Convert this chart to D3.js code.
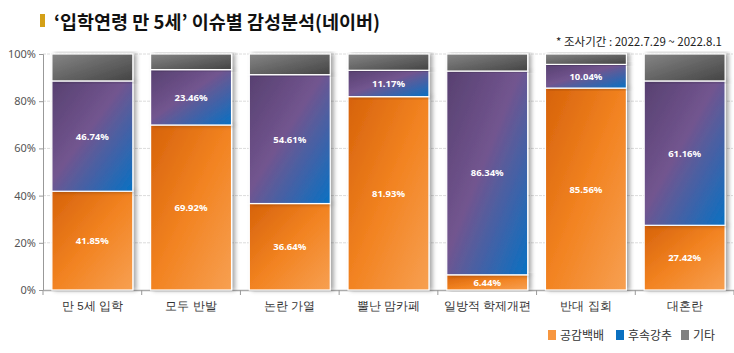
<!DOCTYPE html>
<html>
<head>
<meta charset="utf-8">
<script src="https://cdn.jsdelivr.net/npm/d3@7"></script>
<style>
  body { margin: 0; background: #fff; }
  svg { font-family: "Noto Sans CJK KR", "Noto Sans", sans-serif; }
</style>
</head>
<body>
<div id="chart"></div>
<script>
// categories and series (percent)
var categories = ["만 5세 입학", "모두 반발", "논란 가열", "뿔난 맘카페", "일방적 학제개편", "반대 집회", "대혼란"];
var empathy = [41.85, 69.92, 36.64, 81.93, 6.44, 85.56, 27.42];
var followUp = [46.74, 23.46, 54.61, 11.17, 86.34, 10.04, 61.16];
var others = [11.41, 6.62, 8.75, 6.90, 7.22, 4.40, 11.42];
var seriesNames = ["공감백배", "후속강추", "기타"];
var yTicks = [0, 20, 40, 60, 80, 100];

var width = 734, height = 353;
var margin = {top: 54, right: 0, bottom: 63, left: 43};

var svg = d3.select("#chart").append("svg")
    .attr("width", width)
    .attr("height", height);

var defs = svg.append("defs");

function grad(id, stops) {
    var g = defs.append("linearGradient").attr("id", id)
        .attr("x1", 0).attr("y1", 0).attr("x2", 1).attr("y2", 1);
    stops.forEach(function(s) {
        g.append("stop").attr("offset", s[0]).attr("stop-color", s[1]);
    });
}
grad("gOrange", [[0, "#d6620a"], [0.5, "#f28321"], [1, "#f7a052"]]);
grad("gBlue", [[0, "#574070"], [0.45, "#72558f"], [1, "#0871c3"]]);
grad("gGray", [[0, "#858585"], [1, "#444444"]]);

var shadow = defs.append("filter").attr("id", "shadow")
    .attr("x", "-10%").attr("y", "-10%").attr("width", "130%").attr("height", "120%");
shadow.append("feDropShadow").attr("dx", 3).attr("dy", 0)
    .attr("stdDeviation", 2).attr("flood-color", "#000").attr("flood-opacity", 0.35);

// title
svg.append("rect").attr("x", 40).attr("y", 14).attr("width", 5).attr("height", 13).attr("fill", "#d4a017");
svg.append("text").attr("x", 54).attr("y", 29)
    .attr("font-size", 18.5).attr("font-weight", "bold").attr("fill", "#111")
    .text("‘입학연령 만 5세’ 이슈별 감성분석(네이버)");
svg.append("text").attr("x", 722).attr("y", 46).attr("text-anchor", "end")
    .attr("font-size", 11.5).attr("fill", "#222")
    .text("* 조사기간 : 2022.7.29 ~ 2022.8.1");

var x = d3.scaleBand().domain(categories)
    .range([margin.left, width - margin.right])
    .paddingInner(0.18).paddingOuter(0.09);
var xAxisScale = d3.scaleBand().domain(categories)
    .range([margin.left, width - margin.right]);
var y = d3.scaleLinear().domain([0, 100]).range([height - margin.bottom, margin.top]);

// gridlines
svg.append("g").selectAll("line").data(yTicks.slice(1)).join("line")
    .attr("x1", margin.left).attr("x2", width - 1)
    .attr("y1", d => y(d)).attr("y2", d => y(d))
    .attr("stroke", "#dcdcdc").attr("stroke-dasharray", "3,1");

// y axis
var yAxis = svg.append("g").attr("transform", "translate(" + margin.left + ",0)")
    .call(d3.axisLeft(y).tickValues(yTicks).tickFormat(d => d + "%").tickSize(4).tickPadding(3));
yAxis.select(".domain").attr("stroke", "#999");
yAxis.selectAll(".tick line").attr("stroke", "#999");
yAxis.selectAll("text").attr("font-size", 11).attr("fill", "#555").attr("font-family", "Noto Sans, sans-serif");

// x axis
var xAxis = svg.append("g").attr("transform", "translate(0," + y(0) + ")")
    .call(d3.axisBottom(xAxisScale).tickSize(0).tickPadding(12));
xAxis.select(".domain").attr("stroke", "#aaa").attr("stroke-width", 1.5);
xAxis.selectAll("text").attr("font-size", 11.5).attr("fill", "#333");
svg.append("g").selectAll("line").data(categories.concat(["end"])).join("line")
    .attr("x1", (d, i) => margin.left + i * xAxisScale.step())
    .attr("x2", (d, i) => margin.left + i * xAxisScale.step())
    .attr("y1", y(0)).attr("y2", y(0) + 5)
    .attr("stroke", "#999");

// stacked data
var rows = categories.map(function(c, i) {
    return {cat: c, a: empathy[i], b: followUp[i], c: others[i]};
});
var stack = d3.stack().keys(["a", "b", "c"])(rows);
var fills = ["url(#gOrange)", "url(#gBlue)", "url(#gGray)"];

var bars = svg.append("g");
stack.forEach(function(layer, li) {
    bars.append("g").selectAll("rect").data(layer).join("rect")
        .attr("x", d => x(d.data.cat))
        .attr("width", x.bandwidth())
        .attr("y", d => y(Math.min(d[1], 100)))
        .attr("height", d => y(d[0]) - y(Math.min(d[1], 100)))
        .attr("fill", fills[li])
        .attr("stroke", "#fff").attr("stroke-width", 1.2)
        .attr("filter", "url(#shadow)");
});

// value labels
stack.slice(0, 2).forEach(function(layer) {
    svg.append("g").selectAll("text").data(layer).join("text")
        .attr("x", d => x(d.data.cat) + x.bandwidth() / 2)
        .attr("y", d => (y(d[0]) + y(d[1])) / 2 + 3.5)
        .attr("text-anchor", "middle")
        .attr("font-size", 9.5).attr("font-weight", "bold").attr("fill", "#fff")
        .attr("font-family", "Noto Sans, sans-serif")
        .text(d => (d[1] - d[0]).toFixed(2) + "%");
});

// legend
var legendColors = ["#f7963f", "#0a70c0", "#808080"];
var legendX = [548, 616, 681];
var legend = svg.append("g");
seriesNames.forEach(function(n, i) {
    legend.append("rect").attr("x", legendX[i]).attr("y", 330)
        .attr("width", 8).attr("height", 10).attr("fill", legendColors[i]);
    legend.append("text").attr("x", legendX[i] + 12).attr("y", 339.5)
        .attr("font-size", 12).attr("fill", "#333").text(n);
});
</script>
</body>
</html>
